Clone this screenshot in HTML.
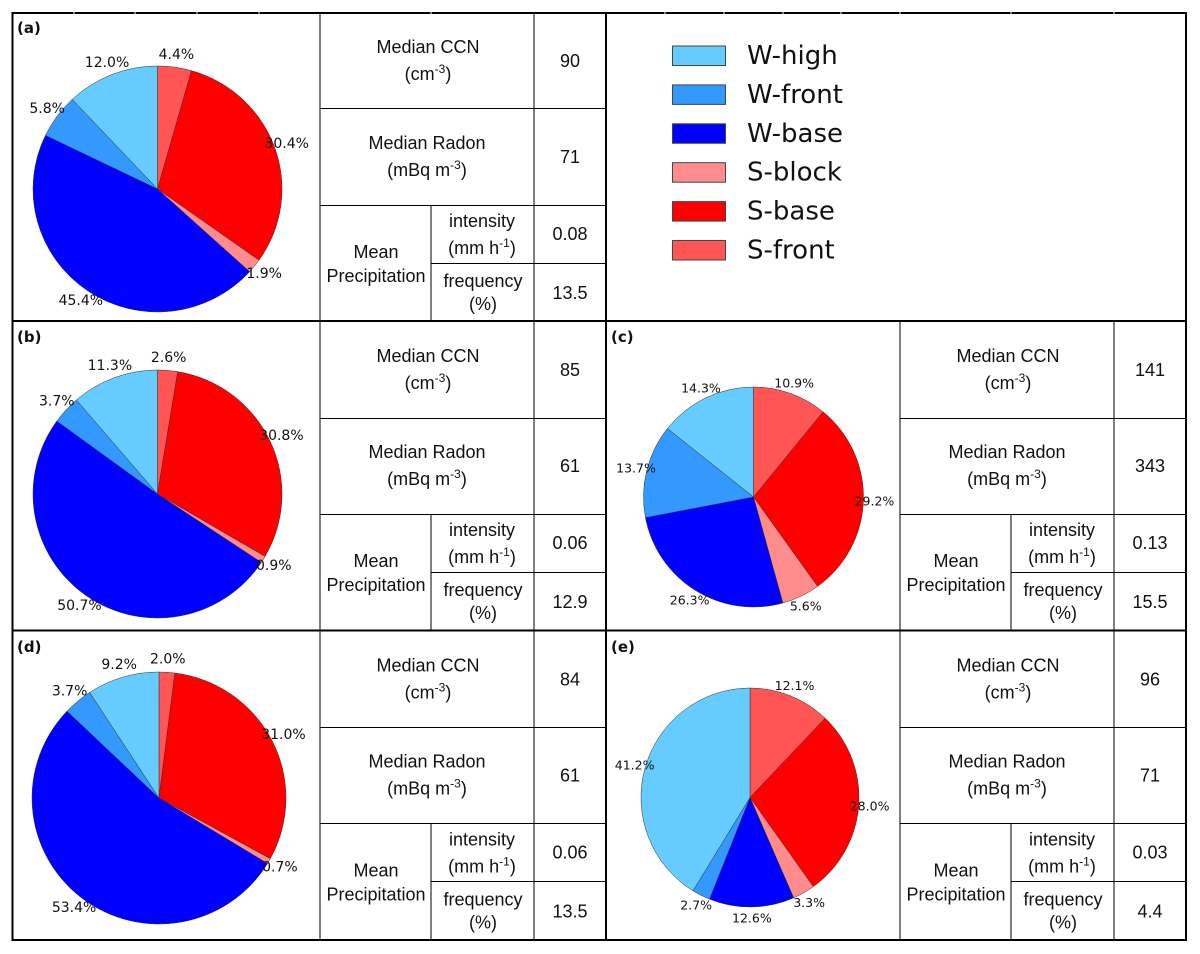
<!DOCTYPE html>
<html lang="en">
<head>
<meta charset="utf-8">
<title>Cloud regime pie charts with CCN, radon and precipitation tables</title>
<style>
html,body{margin:0;padding:0;background:#fff;}
svg{display:block;}
.t{font-family:"Liberation Sans",sans-serif;font-size:18px;fill:#111;text-anchor:middle;}
.s{font-size:12px;}
.p{font-family:"DejaVu Sans",sans-serif;font-weight:bold;font-size:15px;fill:#111;}
.l{font-family:"DejaVu Sans",sans-serif;font-size:26px;fill:#111;}
.i{stroke:#000;stroke-width:1;fill:none;}
.o{stroke:#000;stroke-width:2;fill:none;}
.g{stroke:#fff;stroke-width:1;fill:none;}
</style>
</head>
<body>
<svg id="chart" width="1200" height="954" viewBox="0 0 1200 954" xmlns="http://www.w3.org/2000/svg">
<rect width="1200" height="954" fill="#fff"/>

<g shape-rendering="crispEdges">
<path class="i" d="M320 12V940M534 12V940M900 321V940M1114 321V940
M320 108.500H606M320 205.500H606M431 205V321M431 263.500H606
M320 418.500H606M320 514.500H606M431 514V630M431 572.500H606
M320 727.500H606M320 823.500H606M431 823V940M431 881.500H606
M900 418.500H1186M900 514.500H1186M1011 514V630M1011 572.500H1186
M900 727.500H1186M900 823.500H1186M1011 823V940M1011 881.500H1186"/>
<path class="o" d="M12 13H1186M12 321H1186M12 630.500H1186M12 940H1186M12.500 12V941M606 12V941M1186 12V941"/>
<path class="g" d="M74 12V14M135 12V14M197 12V14M259 12V14M431 12V14M665 12V14M724 12V14M783 12V14M841 12V14M900 12V14M1011 12V14M1114 12V14"/>
</g>

<g id="pies"></g>

<g>
<text class="t" x="428" y="53">Median CCN</text>
<text class="t" x="428" y="80">(cm<tspan class="s" dy="-7">-3</tspan><tspan dy="7">)</tspan></text>
<text class="t" x="570" y="67">90</text>
<text class="t" x="427" y="149">Median Radon</text>
<text class="t" x="427" y="176">(mBq m<tspan class="s" dy="-7">-3</tspan><tspan dy="7">)</tspan></text>
<text class="t" x="570" y="163">71</text>
<text class="t" x="376" y="258">Mean</text>
<text class="t" x="376" y="282">Precipitation</text>
<text class="t" x="482" y="227">intensity</text>
<text class="t" x="482" y="254">(mm h<tspan class="s" dy="-7">-1</tspan><tspan dy="7">)</tspan></text>
<text class="t" x="570" y="240">0.08</text>
<text class="t" x="483" y="287">frequency</text>
<text class="t" x="483" y="310">(%)</text>
<text class="t" x="570" y="299">13.5</text>
</g>

<g transform="translate(0,309)">
<text class="t" x="428" y="53">Median CCN</text>
<text class="t" x="428" y="80">(cm<tspan class="s" dy="-7">-3</tspan><tspan dy="7">)</tspan></text>
<text class="t" x="570" y="67">85</text>
<text class="t" x="427" y="149">Median Radon</text>
<text class="t" x="427" y="176">(mBq m<tspan class="s" dy="-7">-3</tspan><tspan dy="7">)</tspan></text>
<text class="t" x="570" y="163">61</text>
<text class="t" x="376" y="258">Mean</text>
<text class="t" x="376" y="282">Precipitation</text>
<text class="t" x="482" y="227">intensity</text>
<text class="t" x="482" y="254">(mm h<tspan class="s" dy="-7">-1</tspan><tspan dy="7">)</tspan></text>
<text class="t" x="570" y="240">0.06</text>
<text class="t" x="483" y="287">frequency</text>
<text class="t" x="483" y="310">(%)</text>
<text class="t" x="570" y="299">12.9</text>
</g>

<g transform="translate(580,309)">
<text class="t" x="428" y="53">Median CCN</text>
<text class="t" x="428" y="80">(cm<tspan class="s" dy="-7">-3</tspan><tspan dy="7">)</tspan></text>
<text class="t" x="570" y="67">141</text>
<text class="t" x="427" y="149">Median Radon</text>
<text class="t" x="427" y="176">(mBq m<tspan class="s" dy="-7">-3</tspan><tspan dy="7">)</tspan></text>
<text class="t" x="570" y="163">343</text>
<text class="t" x="376" y="258">Mean</text>
<text class="t" x="376" y="282">Precipitation</text>
<text class="t" x="482" y="227">intensity</text>
<text class="t" x="482" y="254">(mm h<tspan class="s" dy="-7">-1</tspan><tspan dy="7">)</tspan></text>
<text class="t" x="570" y="240">0.13</text>
<text class="t" x="483" y="287">frequency</text>
<text class="t" x="483" y="310">(%)</text>
<text class="t" x="570" y="299">15.5</text>
</g>

<g transform="translate(0,618.500)">
<text class="t" x="428" y="53">Median CCN</text>
<text class="t" x="428" y="80">(cm<tspan class="s" dy="-7">-3</tspan><tspan dy="7">)</tspan></text>
<text class="t" x="570" y="67">84</text>
<text class="t" x="427" y="149">Median Radon</text>
<text class="t" x="427" y="176">(mBq m<tspan class="s" dy="-7">-3</tspan><tspan dy="7">)</tspan></text>
<text class="t" x="570" y="163">61</text>
<text class="t" x="376" y="258">Mean</text>
<text class="t" x="376" y="282">Precipitation</text>
<text class="t" x="482" y="227">intensity</text>
<text class="t" x="482" y="254">(mm h<tspan class="s" dy="-7">-1</tspan><tspan dy="7">)</tspan></text>
<text class="t" x="570" y="240">0.06</text>
<text class="t" x="483" y="287">frequency</text>
<text class="t" x="483" y="310">(%)</text>
<text class="t" x="570" y="299">13.5</text>
</g>

<g transform="translate(580,618.500)">
<text class="t" x="428" y="53">Median CCN</text>
<text class="t" x="428" y="80">(cm<tspan class="s" dy="-7">-3</tspan><tspan dy="7">)</tspan></text>
<text class="t" x="570" y="67">96</text>
<text class="t" x="427" y="149">Median Radon</text>
<text class="t" x="427" y="176">(mBq m<tspan class="s" dy="-7">-3</tspan><tspan dy="7">)</tspan></text>
<text class="t" x="570" y="163">71</text>
<text class="t" x="376" y="258">Mean</text>
<text class="t" x="376" y="282">Precipitation</text>
<text class="t" x="482" y="227">intensity</text>
<text class="t" x="482" y="254">(mm h<tspan class="s" dy="-7">-1</tspan><tspan dy="7">)</tspan></text>
<text class="t" x="570" y="240">0.03</text>
<text class="t" x="483" y="287">frequency</text>
<text class="t" x="483" y="310">(%)</text>
<text class="t" x="570" y="299">4.4</text>
</g>

<g id="legend"></g>

<text class="p" x="17" y="33">(a)</text>
<text class="p" x="17" y="342">(b)</text>
<text class="p" x="611" y="342">(c)</text>
<text class="p" x="17" y="652">(d)</text>
<text class="p" x="611" y="652">(e)</text>
</svg>

<script>
// Categories in legend order
const categories = ['W-high', 'W-front', 'W-base', 'S-block', 'S-base', 'S-front'];
const categoryColors = ['#66ccff', '#3399ff', '#0000ff', '#ff8c8c', '#ff0000', '#ff5555'];
// Slice drawing order (clockwise from 12 o'clock)
const sliceOrder = ['S-front', 'S-base', 'S-block', 'W-base', 'W-front', 'W-high'];
// Percentages, in sliceOrder
const valuesA = [4.4, 30.4, 1.9, 45.4, 5.8, 12.0];
const valuesB = [2.6, 30.8, 0.9, 50.7, 3.7, 11.3];
const valuesC = [10.9, 29.2, 5.6, 26.3, 13.7, 14.3];
const valuesD = [2.0, 31.0, 0.7, 53.4, 3.7, 9.2];
const valuesE = [12.1, 28.0, 3.3, 12.6, 2.7, 41.2];

const NS = 'http://www.w3.org/2000/svg';
const piesGroup = document.getElementById('pies');
const legendGroup = document.getElementById('legend');

function drawPie(name, values, cx, cy, rx, ry, fontSize) {
  const g = document.createElementNS(NS, 'g');
  
  
  piesGroup.appendChild(g);
  const total = values.reduce(function (a, b) { return a + b; }, 0);
  const angleOf = function (v) { return v / total * 2 * Math.PI; };
  let acc = 0;
  const labels = [];
  values.forEach(function (v, i) {
    const a0 = angleOf(acc);
    const a1 = angleOf(acc + v);
    const mid = (a0 + a1) / 2;
    const x0 = cx + rx * Math.sin(a0), y0 = cy - ry * Math.cos(a0);
    const x1 = cx + rx * Math.sin(a1), y1 = cy - ry * Math.cos(a1);
    const large = (a1 - a0) > Math.PI ? 1 : 0;
    const cat = sliceOrder[i];
    const path = document.createElementNS(NS, 'path');
    path.setAttribute('d', 'M' + cx + ' ' + cy + 'L' + x0 + ' ' + y0 + 'A' + rx + ' ' + ry + ' 0 ' + large + ' 1 ' + x1 + ' ' + y1 + 'Z');
    path.setAttribute('fill', categoryColors[categories.indexOf(cat)]);
    path.setAttribute('stroke', '#333');
    path.setAttribute('stroke-width', '0.5');
    
    
    g.appendChild(path);
    labels.push({
      x: cx + 1.1 * rx * Math.sin(mid),
      y: cy - 1.1 * ry * Math.cos(mid),
      text: v.toFixed(1) + '%',
      cat: cat
    });
    acc += v;
  });
  labels.forEach(function (l) {
    const t = document.createElementNS(NS, 'text');
    t.setAttribute('x', l.x);
    t.setAttribute('y', l.y);
    t.setAttribute('text-anchor', 'middle');
    t.setAttribute('dominant-baseline', 'central');
    t.setAttribute('font-family', '"DejaVu Sans", sans-serif');
    t.setAttribute('font-size', fontSize);
    t.setAttribute('fill', '#111');
    
    
    t.textContent = l.text;
    g.appendChild(t);
  });
}

drawPie('a', valuesA, 157.5, 189, 124.5, 123, 14);
drawPie('b', valuesB, 157.5, 494, 124.5, 124, 14);
drawPie('c', valuesC, 753.5, 497, 110, 110, 12.5);
drawPie('d', valuesD, 159, 798, 127, 126, 14);
drawPie('e', valuesE, 750, 797.5, 109, 109.5, 12.5);

categories.forEach(function (c, i) {
  const y = 46 + i * 38.9;
  const r = document.createElementNS(NS, 'rect');
  r.setAttribute('x', 672.5);
  r.setAttribute('y', y);
  r.setAttribute('width', 53);
  r.setAttribute('height', 19.5);
  r.setAttribute('fill', categoryColors[i]);
  r.setAttribute('stroke', '#444');
  r.setAttribute('stroke-width', '1');
  
  
  legendGroup.appendChild(r);
  const t = document.createElementNS(NS, 'text');
  t.setAttribute('class', 'l');
  t.setAttribute('x', 747);
  t.setAttribute('y', 64 + i * 38.9);
  
  
  t.textContent = c;
  legendGroup.appendChild(t);
});
</script>
</body>
</html>
